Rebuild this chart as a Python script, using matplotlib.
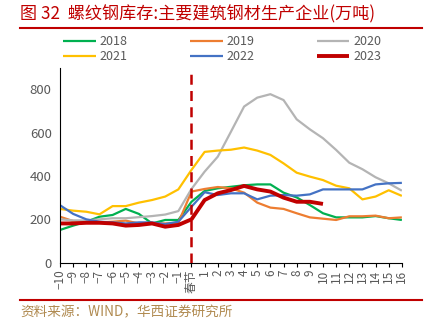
import numpy as np
import matplotlib
matplotlib.use("Agg")
import matplotlib.pyplot as plt

plt.rcParams['font.family'] = ['Noto Sans CJK SC', 'DejaVu Sans']
plt.rcParams['axes.unicode_minus'] = False

# x categories: 10 weeks before the Spring Festival to 16 weeks after
labels = ['\u221210', '\u22129', '\u22128', '\u22127', '\u22126', '\u22125', '\u22124', '\u22123',
          '\u22122', '\u22121', '春节'] + [str(i) for i in range(1, 17)]

s2018 = [151, 171, 189, 212, 220, 248, 225, 181, 197, 197, 281, 331, 343, 350, 357,
         361, 361, 323, 301, 266, 228, 209, 209, 209, 215, 205, 197]
s2019 = [212, 192, 186, 186, 189, 194, 181, 181, 181, 184, 328, 340, 349, 343, 323,
         277, 254, 248, 228, 209, 203, 197, 214, 214, 217, 205, 209]
s2020 = [200, 195, 195, 200, 205, 205, 210, 215, 222, 238, 340, 420, 489, 604, 720,
         761, 777, 750, 661, 615, 574, 520, 461, 431, 394, 366, 332]
s2021 = [248, 240, 235, 223, 261, 261, 277, 289, 305, 338, 428, 511, 517, 521, 531,
         517, 497, 458, 415, 397, 381, 355, 343, 292, 305, 334, 308]
s2022 = [265, 225, 200, 189, 186, 181, 186, 186, 178, 189, 258, 325, 312, 320, 320,
         292, 309, 312, 309, 315, 338, 338, 338, 338, 361, 366, 368]
s2023 = [181, 181, 184, 184, 181, 171, 174, 181, 166, 174, 200, 289, 320, 335, 354,
         338, 328, 300, 281, 281, 271]

series = [
    ('2018', s2018, '#00B050', 1.6),
    ('2019', s2019, '#ED7D31', 1.6),
    ('2020', s2020, '#B4B4B4', 1.6),
    ('2021', s2021, '#FFC000', 1.6),
    ('2022', s2022, '#4472C4', 1.6),
    ('2023', s2023, '#C00000', 2.8),
]

fig = plt.figure(figsize=(4.33, 3.21), dpi=100)
ax = fig.add_axes([0.1386, 0.1816, 0.7895, 0.6081])

x = np.arange(len(labels))
handles = []
for name, vals, color, lw in series:
    h, = ax.plot(x[:len(vals)], vals, color=color, lw=lw, label=name,
                 solid_capstyle='butt', solid_joinstyle='round')
    handles.append(h)

# Spring Festival marker
ax.axvline(10, color='#C00000', lw=1.8, ls=(0, (4, 2.5)), zorder=5)

ax.set_xlim(0, 26)
ax.set_ylim(0, 900)
ax.set_yticks([0, 200, 400, 600, 800])
ax.set_xticks(x)
ax.set_xticklabels(labels, rotation=90, fontsize=8.5, color='#595959')
ax.tick_params(axis='y', length=0, labelsize=9.5, labelcolor='#595959', pad=6)
ax.tick_params(axis='x', length=3, width=0.8, pad=2)
for side in ('top', 'right'):
    ax.spines[side].set_visible(False)
ax.spines['left'].set_color('#000000')
ax.spines['bottom'].set_color('#000000')

# legend filled row by row: 2018 2019 2020 / 2021 2022 2023
order = [0, 3, 1, 4, 2, 5]
leg = fig.legend([handles[i] for i in order], [series[i][0] for i in order],
                 loc='upper left', bbox_to_anchor=(0.135, 0.905), ncol=3,
                 frameon=False, fontsize=9, handlelength=2.6, handletextpad=0.3,
                 columnspacing=5.0, labelspacing=0.15, borderaxespad=0)
for t in leg.get_texts():
    t.set_color('#595959')

fig.text(0.046, 0.955, '图 32  螺纹钢库存:主要建筑钢材生产企业(万吨)', color='#C00000',
         fontsize=12.3, va='center', ha='left')
fig.add_artist(plt.Line2D([0.046, 0.975], [0.914, 0.914], color='#C00000', lw=1.5))
fig.add_artist(plt.Line2D([0.046, 0.975], [0.065, 0.065], color='#C00000', lw=1.5))
fig.text(0.046, 0.028, '资料来源：WIND，华西证券研究所', color='#B08A50',
         fontsize=9.8, va='center', ha='left')

fig.savefig('out.png', dpi=100)
